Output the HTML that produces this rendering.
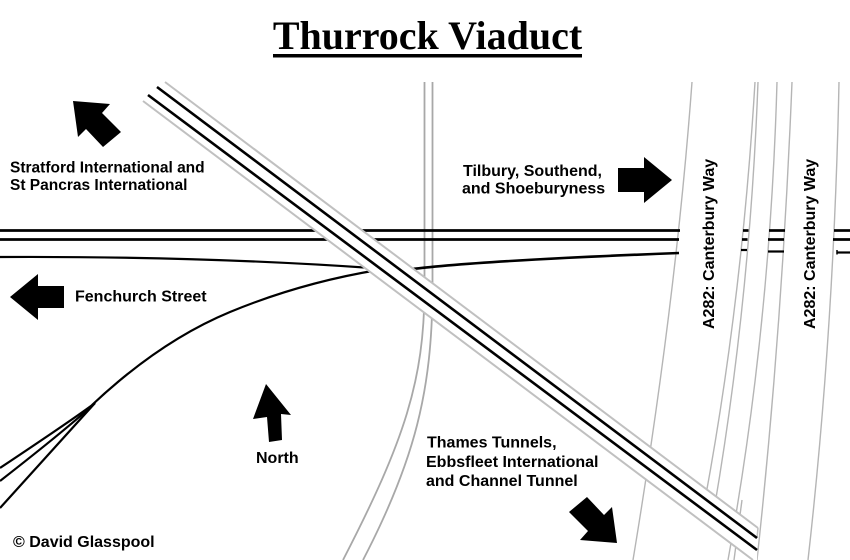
<!DOCTYPE html>
<html>
<head>
<meta charset="utf-8">
<style>
  html, body { margin: 0; padding: 0; background: #fff; }
  svg { display: block; }
  .lbl { font-family: "Liberation Sans", Arial, sans-serif; font-weight: bold; font-size: 16px; fill: #000; }
</style>
</head>
<body>
<svg width="850" height="560" viewBox="0 0 850 560" xmlns="http://www.w3.org/2000/svg">
  <rect x="0" y="0" width="850" height="560" fill="#fff"/>

  <!-- Title -->
  <text x="427.5" y="49" text-anchor="middle" font-family="'Liberation Serif', 'Times New Roman', serif" font-weight="bold" font-size="40" fill="#000">Thurrock Viaduct</text>
  <rect x="273" y="54" width="309" height="3.5" fill="#000"/>

  <!-- A282 Canterbury Way road edges (gray) -->
  <g fill="none" stroke="#b5b5b5" stroke-width="1.4">
    <path d="M692,82 Q676,300 633,560"/>
    <path d="M755,82 Q742,300 705,500"/>
    <path d="M758,82 Q750,300 714,510"/>
    <path d="M777,82 Q770,330 728,560"/>
    <path d="M742,500 L734,560"/>
    <path d="M792,82 Q782,330 757,560"/>
    <path d="M839,82 Q834,330 808,560"/>
  </g>

  <!-- Vertical road (gray double line) -->
  <g fill="none" stroke="#a8a8a8" stroke-width="1.8">
    <line x1="424.5" y1="82" x2="424.5" y2="300"/>
    <line x1="432.5" y1="82" x2="432.5" y2="300"/>
    <path d="M424.5,290 C424,380 405,440 343,560"/>
    <path d="M432.5,290 C432,390 415,460 363,560"/>
  </g>

  <!-- Horizontal rails -->
  <g stroke="#000" stroke-width="2.7" fill="none">
    <line x1="0" y1="230.5" x2="680" y2="230.5"/>
    <line x1="0" y1="239.5" x2="679" y2="239.5"/>
    <line x1="743" y1="230.5" x2="748.5" y2="230.5"/>
    <line x1="742" y1="239.5" x2="747.5" y2="239.5"/>
    <line x1="769" y1="230.5" x2="785" y2="230.5"/>
    <line x1="768" y1="239.5" x2="784" y2="239.5"/>
    <line x1="834" y1="230.5" x2="850" y2="230.5"/>
    <line x1="833" y1="239.5" x2="850" y2="239.5"/>
  </g>

  <!-- Lower line and curve -->
  <g stroke="#000" stroke-width="2.2" fill="none">
    <path d="M0,257 Q200,256 372,268"/>
    <path d="M405,270 Q470,261 679,253" stroke-width="2.6"/>
    <line x1="741" y1="250" x2="747" y2="250"/>
    <line x1="768" y1="251.5" x2="784" y2="251.5"/>
    <line x1="837" y1="252.5" x2="850" y2="252.5"/>
    <line x1="837" y1="250" x2="837" y2="254.5" stroke-width="1.5"/>
    <path d="M378,270 Q300,283 230,312 T92,405"/>
    <path d="M95,403 Q75,418 0,468"/>
    <path d="M95,403 Q68,428 0,481"/>
    <path d="M95,403 L0,508"/>
  </g>

  <!-- Viaduct -->
  <polygon points="165,82 758,528 757,560 753,560 143,101" fill="#fff"/>
  <g fill="none" stroke-linecap="butt">
    <line x1="165" y1="82" x2="758" y2="528" stroke="#c0c0c0" stroke-width="2"/>
    <line x1="758" y1="528" x2="757" y2="538" stroke="#c0c0c0" stroke-width="1.5"/>
    <line x1="143" y1="101" x2="753" y2="560" stroke="#c0c0c0" stroke-width="2"/>
    <line x1="157" y1="87" x2="757" y2="538" stroke="#000" stroke-width="2.6"/>
    <line x1="148" y1="95" x2="757" y2="550" stroke="#000" stroke-width="2.6"/>
  </g>

  <!-- Arrows -->
  <g fill="#000">
    <polygon points="73,101 110,104 102,113 121,132 103,147 86,129 78,137"/>
    <polygon points="618,168 644,168 644,157 672,180 644,203 644,192 618,192"/>
    <polygon points="10,297 38,274 38,286 64,286 64,308 38,308 38,320"/>
    <polygon points="266,384 291,415 281,414 282,440 269,442 267,417 253,419"/>
    <polygon points="617,543 612,507 604,515 587,497 569,512 588,531 580,540"/>
  </g>

  <!-- Labels -->
  <text class="lbl" x="10" y="172.5" style="font-size:15.5px">Stratford International and</text>
  <text class="lbl" x="10" y="190" style="font-size:15.5px">St Pancras International</text>

  <text class="lbl" x="463" y="176">Tilbury, Southend,</text>
  <text class="lbl" x="462" y="193.5">and Shoeburyness</text>

  <text class="lbl" x="75" y="301.5">Fenchurch Street</text>

  <text class="lbl" x="256" y="463">North</text>

  <text class="lbl" x="427" y="447.5">Thames Tunnels,</text>
  <text class="lbl" x="426" y="467">Ebbsfleet International</text>
  <text class="lbl" x="426" y="486">and Channel Tunnel</text>

  <text class="lbl" x="13" y="547">© David Glasspool</text>

  <text class="lbl" transform="translate(714,329) rotate(-90)">A282: Canterbury Way</text>
  <text class="lbl" transform="translate(815,329) rotate(-90)">A282: Canterbury Way</text>
</svg>
</body>
</html>
